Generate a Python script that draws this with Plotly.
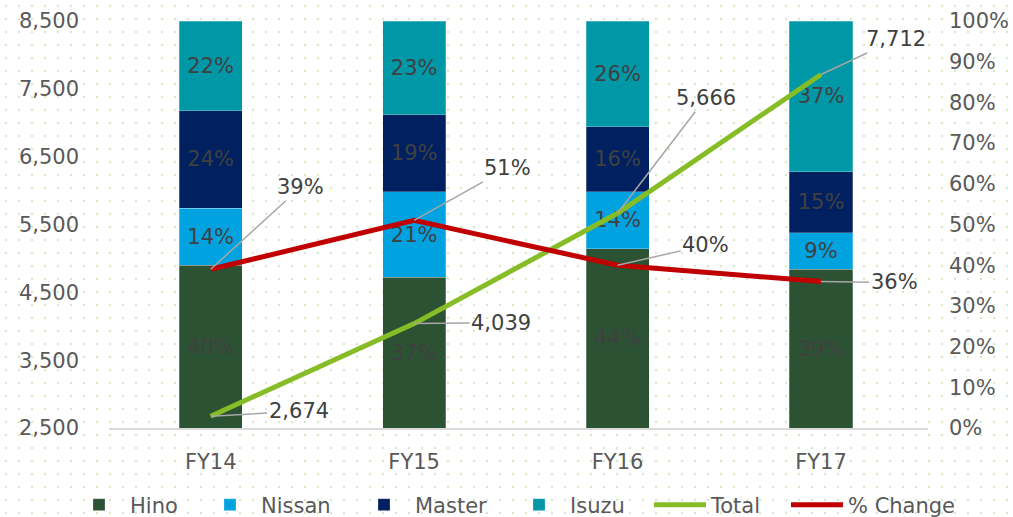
import base64
import plotly.graph_objects as go

# ---- data ----
categories = ["FY14", "FY15", "FY16", "FY17"]
hino = [0.40, 0.37, 0.44, 0.39]
nissan = [0.14, 0.21, 0.14, 0.09]
master = [0.24, 0.19, 0.16, 0.15]
isuzu = [0.22, 0.23, 0.26, 0.37]
total = [2674, 4039, 5666, 7712]
pct_change = [0.39, 0.51, 0.40, 0.36]

left_ticks = [2500, 3500, 4500, 5500, 6500, 7500, 8500]
right_ticks = [i / 10 for i in range(11)]

# label offsets (pixels) for leader-lined labels
total_offsets = [(88, -5), (87, -1), (88, -115), (75, -35)]
pct_offsets = [(90, -82), (93, -52), (88, -20), (73, 1)]

# legend entry left edges (px)
legend_x = [68, 199, 353, 508, 649, 786]

FONT = "DejaVu Sans"
W, H = 1013, 517
L, R, T, B = 109, 85, 21, 89
PW, PH = W - L - R, H - T - B

colors = {"Hino": "#2C5234", "Nissan": "#00A3E0", "Master": "#002060", "Isuzu": "#0097A7"}
legend_ids = ["legend", "legend2", "legend3", "legend4", "legend5", "legend6"]

fig = go.Figure()
for i, (name, vals) in enumerate([("Hino", hino), ("Nissan", nissan), ("Master", master), ("Isuzu", isuzu)]):
    fig.add_trace(go.Bar(
        x=categories, y=vals, name=name, yaxis="y", legend=legend_ids[i],
        marker=dict(color=colors[name], line=dict(color="rgba(255,255,255,0.5)", width=0.5)),
        text=[f"{v:.0%}" for v in vals], textposition="inside", insidetextanchor="middle",
        textfont=dict(family=FONT, size=21, color="#404040"),
        hoverinfo="skip",
    ))

fig.add_trace(go.Scatter(
    x=categories, y=total, name="Total", yaxis="y2", mode="lines", legend=legend_ids[4],
    line=dict(color="#86BC25", width=5), hoverinfo="skip",
))
fig.add_trace(go.Scatter(
    x=categories, y=pct_change, name="% Change", yaxis="y3", mode="lines", legend=legend_ids[5],
    line=dict(color="#C00000", width=5), hoverinfo="skip",
))

annotations = []
for c, v, (ax, ay) in zip(categories, total, total_offsets):
    annotations.append(dict(
        x=c, y=v, xref="x", yref="y2", text=f"{v:,}", showarrow=True,
        ax=ax, ay=ay, arrowhead=0, arrowwidth=1.5, arrowcolor="#A6A6A6", standoff=0,
        font=dict(family=FONT, size=21, color="#404040"),
    ))
for c, v, (ax, ay) in zip(categories, pct_change, pct_offsets):
    annotations.append(dict(
        x=c, y=v, xref="x", yref="y3", text=f"{v:.0%}", showarrow=True,
        ax=ax, ay=ay, arrowhead=0, arrowwidth=1.5, arrowcolor="#A6A6A6", standoff=0,
        font=dict(family=FONT, size=21, color="#404040"),
    ))

# dotted background texture
svg = (
    f'<svg xmlns="http://www.w3.org/2000/svg" width="{W}" height="{H}">'
    '<defs><pattern id="p" width="13" height="13" patternUnits="userSpaceOnUse">'
    '<circle cx="6" cy="6" r="1.2" fill="#D6E9C8"/></pattern></defs>'
    f'<rect width="{W}" height="{H}" fill="url(#p)"/></svg>'
)
src = "data:image/svg+xml;base64," + base64.b64encode(svg.encode()).decode()

legends = {}
for lid, lx in zip(legend_ids, legend_x):
    legends[lid] = dict(
        orientation="h", x=lx / W, xanchor="left", xref="container",
        y=(H - 505) / H, yref="container", yanchor="middle", itemwidth=52,
        font=dict(family=FONT, size=21, color="#595959"), bgcolor="rgba(0,0,0,0)",
    )

fig.update_layout(
    width=W, height=H,
    margin=dict(l=L, r=R, t=T, b=B, autoexpand=False),
    paper_bgcolor="white", plot_bgcolor="rgba(0,0,0,0)",
    barmode="stack", bargap=0.69,
    font=dict(family=FONT, size=21, color="#595959"),
    uniformtext=dict(minsize=21, mode="show"),
    showlegend=True,
    xaxis=dict(showline=True, linecolor="#D9D9D9", linewidth=1.5, showgrid=False,
               ticks="", ticklabelstandoff=14, tickfont=dict(color="#595959", size=21)),
    yaxis=dict(side="right", range=[0, 1], tickvals=right_ticks, tickformat=".0%",
               showgrid=False, zeroline=False, ticks="", ticklabelstandoff=20,
               tickfont=dict(color="#595959", size=21)),
    yaxis2=dict(side="left", overlaying="y", range=[2500, 8500], tickvals=left_ticks,
                tickformat=",d", showgrid=False, zeroline=False, ticks="", ticklabelstandoff=29,
                tickfont=dict(color="#595959", size=21)),
    yaxis3=dict(overlaying="y", range=[0, 1], visible=False),
    annotations=annotations,
    images=[dict(source=src, xref="paper", yref="paper", x=-L / PW, y=1 + T / PH,
                 sizex=W / PW, sizey=H / PH, sizing="stretch", layer="below")],
    **legends,
)

fig.write_html(
    "out.html",
    config={"displayModeBar": False},
    post_script="document.body.style.margin='0';document.body.style.overflow='hidden';",
)
